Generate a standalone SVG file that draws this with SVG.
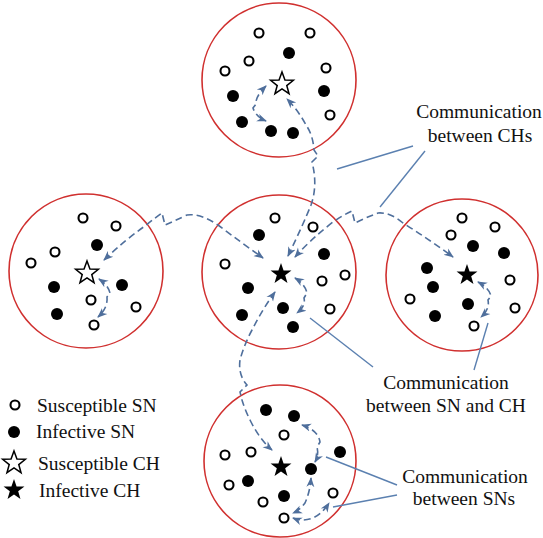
<svg xmlns="http://www.w3.org/2000/svg" xmlns:xlink="http://www.w3.org/1999/xlink" width="543" height="538" viewBox="0 0 543 538">
<style>
.cl{fill:none;stroke:#d0302f;stroke-width:1.6}
.o{fill:#fff;stroke:#000;stroke-width:2.1}
.f{fill:#000}
.so{fill:#fff;stroke:#000;stroke-width:1.5;stroke-linejoin:miter}
.sf{fill:#000}
.d{fill:none;stroke:#4f6f9c;stroke-width:1.6;stroke-dasharray:7 4;marker-start:url(#ah);marker-end:url(#ah)}
.a{fill:none;stroke:#5b80b0;stroke-width:1.4}
text{font-family:"Liberation Serif","Times New Roman",serif;font-size:19.5px;fill:#111}
.c{text-anchor:middle}
</style>
<defs>
<marker id="ah" viewBox="0 0 10 10" refX="9" refY="5" markerWidth="10" markerHeight="10" markerUnits="userSpaceOnUse" orient="auto-start-reverse">
<path d="M0,1 L10,5 L0,9 L3,5 z" fill="#4f6f9c"/>
</marker>
<path id="starF" d="M0,-11 L2.59,-3.56 L10.46,-3.4 L4.18,1.36 L6.47,8.9 L0,4.4 L-6.47,8.9 L-4.18,1.36 L-10.46,-3.4 L-2.59,-3.56 Z"/>
<path id="starO" d="M0,-12 L2.94,-4.05 L11.41,-3.71 L4.77,1.55 L7.05,9.71 L0,5 L-7.05,9.71 L-4.77,1.55 L-11.41,-3.71 L-2.94,-4.05 Z"/>
</defs>

<g id="cluster-top">
<circle class="cl" cx="279" cy="80" r="77"/>
<circle class="o" cx="259" cy="33" r="4.5"/>
<circle class="o" cx="310" cy="33" r="4.5"/>
<circle class="f" cx="289" cy="53" r="6"/>
<circle class="o" cx="249" cy="61" r="4.5"/>
<circle class="o" cx="225" cy="71" r="4.5"/>
<circle class="o" cx="326" cy="68" r="4.5"/>
<use href="#starO" x="282" y="84" class="so"/>
<circle class="f" cx="233" cy="96" r="6"/>
<circle class="f" cx="324" cy="91" r="6"/>
<circle class="o" cx="330" cy="115" r="4.5"/>
<circle class="f" cx="242" cy="122" r="6"/>
<circle class="f" cx="271" cy="131" r="6"/>
<circle class="f" cx="293" cy="133" r="6"/>
</g>

<g id="cluster-left">
<circle class="cl" cx="86" cy="271" r="77"/>
<circle class="o" cx="83" cy="218" r="4.5"/>
<circle class="o" cx="116" cy="226" r="4.5"/>
<circle class="f" cx="97" cy="245" r="6"/>
<circle class="o" cx="55" cy="252" r="4.5"/>
<circle class="o" cx="31" cy="263" r="4.5"/>
<use href="#starO" x="87" y="273" class="so"/>
<circle class="f" cx="54" cy="287" r="6"/>
<circle class="f" cx="122" cy="285" r="6"/>
<circle class="o" cx="91" cy="300" r="4.5"/>
<circle class="o" cx="136" cy="307" r="4.5"/>
<circle class="f" cx="57" cy="314" r="6"/>
<circle class="o" cx="94" cy="325" r="4.5"/>
</g>

<g id="cluster-center">
<circle class="cl" cx="279" cy="272" r="77"/>
<circle class="o" cx="275" cy="218" r="4.5"/>
<circle class="f" cx="259" cy="235" r="6"/>
<circle class="o" cx="313" cy="227" r="4.5"/>
<circle class="f" cx="324" cy="254" r="6"/>
<circle class="o" cx="225" cy="264" r="4.5"/>
<use href="#starF" x="281" y="274" class="sf"/>
<circle class="o" cx="322" cy="281" r="4.5"/>
<circle class="o" cx="345" cy="275" r="4.5"/>
<circle class="f" cx="248" cy="288" r="6"/>
<circle class="f" cx="283" cy="308" r="6"/>
<circle class="o" cx="330" cy="309" r="4.5"/>
<circle class="f" cx="242" cy="315" r="6"/>
<circle class="f" cx="293" cy="327" r="6"/>
</g>

<g id="cluster-right">
<circle class="cl" cx="462" cy="275" r="76"/>
<circle class="o" cx="462" cy="218" r="4.5"/>
<circle class="o" cx="495" cy="227" r="4.5"/>
<circle class="o" cx="451" cy="235" r="4.5"/>
<circle class="f" cx="473" cy="246" r="6"/>
<circle class="f" cx="504" cy="253" r="6"/>
<circle class="f" cx="427" cy="268" r="6"/>
<use href="#starF" x="467" y="275" class="sf"/>
<circle class="o" cx="510" cy="280" r="4.5"/>
<circle class="f" cx="433" cy="287" r="6"/>
<circle class="o" cx="410" cy="299" r="4.5"/>
<circle class="f" cx="468" cy="304" r="6"/>
<circle class="o" cx="515" cy="308" r="4.5"/>
<circle class="f" cx="435" cy="316" r="6"/>
<circle class="o" cx="474" cy="326" r="4.5"/>
</g>

<g id="cluster-bottom">
<circle class="cl" cx="280" cy="461" r="76"/>
<circle class="f" cx="266" cy="410" r="6"/>
<circle class="f" cx="294" cy="416" r="6"/>
<circle class="o" cx="284" cy="435" r="4.5"/>
<circle class="o" cx="225" cy="455" r="4.5"/>
<circle class="o" cx="251" cy="452" r="4.5"/>
<use href="#starF" x="281" y="467" class="sf"/>
<circle class="f" cx="340" cy="452" r="6"/>
<circle class="f" cx="311" cy="469" r="6"/>
<circle class="o" cx="229" cy="485" r="4.5"/>
<circle class="f" cx="248" cy="481" r="6"/>
<circle class="f" cx="284" cy="496" r="6"/>
<circle class="o" cx="263" cy="502" r="4.5"/>
<circle class="o" cx="333" cy="493" r="4.5"/>
<circle class="o" cx="284" cy="518" r="4.5"/>
</g>

<g id="connectors">
<path class="d" d="M288,256 Q303,225 311,205 Q318,185 312,162 L318,156 L314,150 Q313,135 306,125 Q298,110 287,99"/>
<path class="d" d="M104,260 Q125,240 145,226 Q155,218 162,213 L165,225 Q172,222 187,215 Q200,213 218,225 Q242,243 263,258"/>
<path class="d" d="M295,257 Q310,240 333,222 Q343,215 352,211 L355,223 Q365,218 378,213 Q390,212 403,223 Q430,240 453,257"/>
<path class="d" d="M275,292 Q262,310 252,330 Q244,345 240,360 Q238,375 247,385 L240,392 L242,400 Q245,410 250,420 Q260,440 272,450"/>
<path class="d" d="M266,86 Q255,97 256,104 L253,108 Q256,117 266,121"/>
<path class="d" d="M99,279 Q108,285 110,293 L107,297 Q108,308 98,317"/>
<path class="d" d="M295,278 Q305,284 307,293 L304,298 Q306,306 297,313"/>
<path class="d" d="M478,282 Q489,288 491,296 L488,300 Q490,309 481,317"/>
<path class="d" d="M302,425 Q318,430 320,442 L317,447 Q319,455 315,462"/>
<path class="d" d="M311,478 Q310,492 305,503 Q300,510 293,513"/>
<path class="d" d="M293,518 Q303,522 313,518 Q322,514 329,503"/>
</g>

<g id="annotations">
<line class="a" x1="337" y1="169" x2="413" y2="146"/>
<line class="a" x1="380" y1="207" x2="425" y2="151"/>
<line class="a" x1="310" y1="318" x2="373" y2="367"/>
<line class="a" x1="488" y1="323" x2="474" y2="370"/>
<line class="a" x1="326" y1="457" x2="397" y2="485"/>
<line class="a" x1="333" y1="507" x2="397" y2="495"/>
<text class="c" x="479" y="118">Communication</text>
<text class="c" x="480" y="142">between CHs</text>
<text class="c" x="446" y="389">Communication</text>
<text class="c" x="446" y="412">between SN and CH</text>
<text class="c" x="465" y="483">Communication</text>
<text class="c" x="464" y="505">between SNs</text>
</g>

<g id="legend">
<circle class="o" cx="15" cy="405" r="4.5"/>
<text x="37" y="412">Susceptible SN</text>
<circle class="f" cx="14" cy="432" r="6"/>
<text x="36" y="438">Infective SN</text>
<use href="#starO" x="14" y="463" class="so"/>
<text x="38" y="470">Susceptible CH</text>
<use href="#starF" x="14" y="490" class="sf"/>
<text x="39" y="497">Infective CH</text>
</g>
</svg>
